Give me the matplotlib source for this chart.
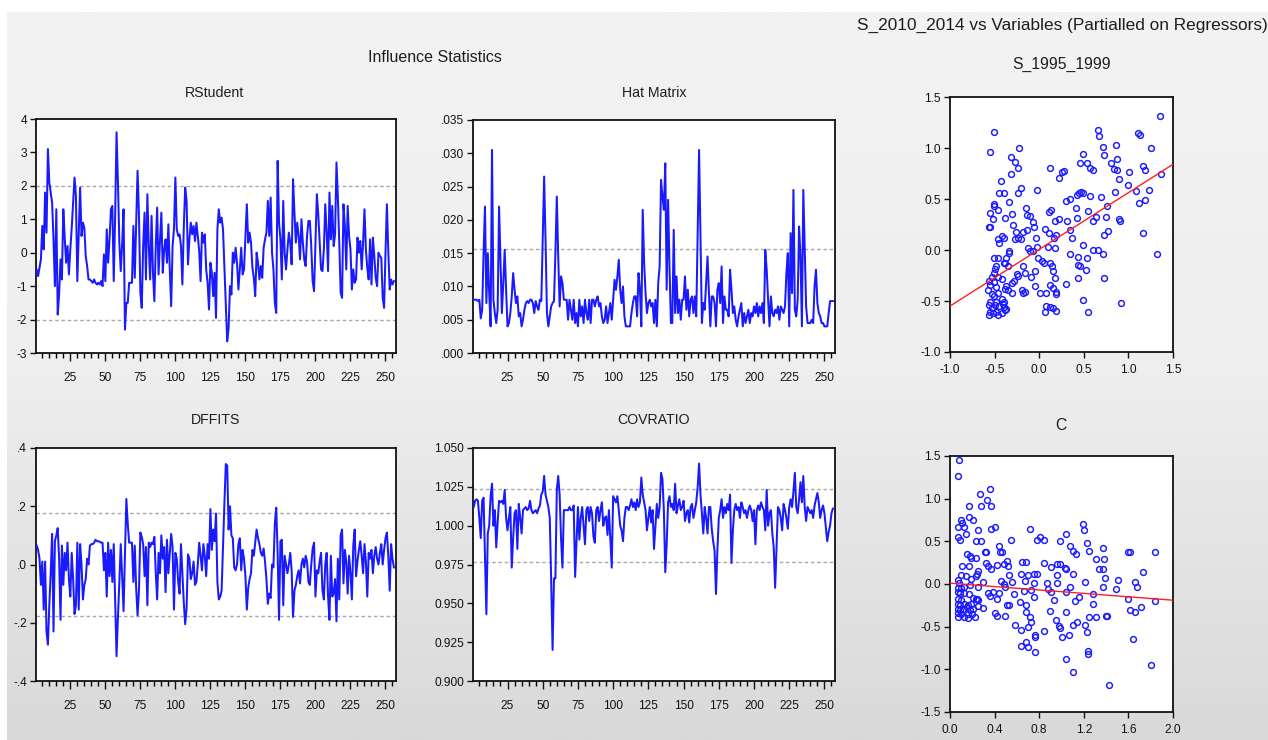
import numpy as np
import matplotlib
matplotlib.use("Agg")
import matplotlib.pyplot as plt
from matplotlib.ticker import MultipleLocator, FuncFormatter

plt.rcParams['font.family'] = ['Liberation Sans', 'DejaVu Sans']
plt.rcParams['axes.unicode_minus'] = False

W, H = 1268, 740

# influence statistics, one value per observation
rstudent = [
    -0.5, -0.7, -0.45, -0.2, 0.8, 0.1, 1.8, 0.6, 3.1, 2.1,
    1.8, 1.5, 0.4, -1.0, 1.3, -1.85, -1.25, -0.2, -0.8, 1.3,
    0.45, -0.3, 0.2, -0.65, 0.1, 0.75, 1.5, 2.25, 1.7, -0.85,
    0.6, 1.95, 0.5, 0.9, 0.75, -0.1, -0.4, -0.8, -0.8, -0.85,
    -0.9, -0.8, -0.9, -0.95, -0.9, -0.95, -0.85, -1.0, -0.05, -0.85,
    0.7, -0.3, 0.4, 1.3, 1.4, -0.85, 1.1, 3.6, 2.1, 0.3,
    -0.55, 0.25, 1.3, -2.3, -1.5, -1.5, -0.9, -0.9, -0.9, 0.8,
    -0.75, 0.85, 2.45, 1.15, -1.2, -1.65, 0.2, 1.2, -0.8, 1.75,
    0.2, -0.8, 1.1, -0.6, -1.45, 0.2, 1.35, -0.65, 0.35, 1.2,
    -0.6, 0.1, 0.4, -0.3, 0.85, -0.5, -1.6, 0.2, 0.7, 2.25,
    0.7, 0.5, 0.55, 0.2, -0.95, 0.75, 1.95, 1.55, -0.35, 0.4,
    0.9, 0.55, 0.8, 0.35, 0.9, 0.5, 0.05, -0.85, 0.6, 0.3,
    0.55, -0.5, -0.9, -1.7, -0.3, -0.6, -1.3, -0.6, -1.95, 0.7,
    1.3, 0.9, 1.05, 0.7, -0.45, -1.55, -2.65, -2.25, -1.0, -1.25,
    0.0, -0.3, 0.15, -0.3, -1.1, -0.5, 0.15, -0.65, -0.5, 0.5,
    1.45, 0.3, 0.6, 0.3, -0.45, -0.75, -1.3, 0.0, -0.3, -0.8,
    -0.4, -0.75, 0.15, 0.4, 0.6, 1.55, 0.5, 1.65, 0.0, -0.5,
    -1.5, -1.8, 2.75, 0.9, 0.4, -0.8, 1.55, 0.0, -0.5, 0.1,
    0.6, 0.3, -0.35, 2.2, 1.2, 0.3, 0.9, 0.5, -0.2, 1.0,
    0.3, -0.2, -0.4, 0.5, 0.95, 0.95, 0.2, -0.85, -1.15, 0.3,
    1.75, 1.15, 0.3, -0.5, -0.55, 0.1, 1.45, 0.6, -0.55, 1.8,
    0.4, 1.4, 0.2, 0.55, 2.7, 1.65, 0.3, -1.2, -1.35, 1.45,
    0.8, -0.5, 1.4, 0.5, 0.1, -1.1, -0.5, -0.9, -0.8, 0.45,
    0.0, 0.35, -0.5, 0.3, 1.3, 0.1, -0.45, -0.8, 0.4, -0.95,
    0.45, -0.1, -0.75, -1.0, 0.0, -0.1, -0.15, -1.35, -1.65, 0.0,
    1.45, 0.05, -1.1, -0.8, -0.95, -0.85,
]

hat = [
    .0080, .0080, .0080, .0078, .0080, .0052, .0065, .0150, .0220, .0075,
    .0150, .0090, .0040, .0305, .0080, .0060, .0045, .0065, .0220, .0140,
    .0060, .0105, .0155, .0095, .0040, .0045, .0060, .0085, .0120, .0095,
    .0075, .0085, .0055, .0060, .0040, .0050, .0065, .0075, .0078, .0075,
    .0080, .0080, .0075, .0060, .0078, .0070, .0065, .0080, .0078, .0170,
    .0265, .0170, .0060, .0040, .0055, .0070, .0075, .0078, .0150, .0235,
    .0145, .0070, .0115, .0105, .0080, .0080, .0080, .0050, .0080, .0065,
    .0050, .0080, .0045, .0060, .0040, .0080, .0055, .0070, .0045, .0080,
    .0060, .0050, .0080, .0045, .0080, .0080, .0070, .0080, .0085, .0070,
    .0075, .0055, .0045, .0050, .0070, .0045, .0060, .0075, .0050, .0080,
    .0110, .0095, .0115, .0140, .0095, .0075, .0100, .0055, .0040, .0040,
    .0040, .0040, .0060, .0075, .0085, .0085, .0055, .0120, .0095, .0040,
    .0215, .0135, .0090, .0060, .0075, .0080, .0070, .0075, .0045, .0080,
    .0040, .0105, .0130, .0260, .0235, .0215, .0285, .0095, .0230, .0130,
    .0045, .0045, .0185, .0060, .0115, .0060, .0080, .0050, .0080, .0080,
    .0115, .0065, .0095, .0055, .0080, .0085, .0060, .0085, .0055, .0180,
    .0305, .0175, .0045, .0075, .0065, .0105, .0145, .0090, .0040, .0085,
    .0085, .0075, .0040, .0095, .0105, .0075, .0130, .0045, .0085, .0065,
    .0065, .0055, .0125, .0095, .0060, .0070, .0050, .0040, .0055, .0065,
    .0075, .0040, .0060, .0045, .0055, .0065, .0045, .0060, .0055, .0070,
    .0060, .0075, .0055, .0070, .0060, .0075, .0045, .0155, .0125, .0080,
    .0040, .0085, .0060, .0055, .0065, .0060, .0070, .0050, .0070, .0065,
    .0060, .0070, .0120, .0150, .0040, .0180, .0090, .0245, .0065, .0055,
    .0080, .0190, .0145, .0040, .0245, .0155, .0070, .0045, .0045, .0045,
    .0050, .0045, .0100, .0125, .0075, .0060, .0055, .0045, .0045, .0040,
    .0040, .0040, .0060, .0078, .0078, .0078,
]

dffits = [
    .065, .050, .020, -.070, .010, -.155, .010, -.230, -.275, -.140,
    -.030, .105, -.230, .080, .100, .125, .020, -.190, .065, -.070,
    .040, -.020, .075, -.050, -.110, .040, -.050, -.170, -.140, .075,
    -.155, .070, .000, -.120, -.070, -.050, .020, .000, .065, .070,
    .070, .075, .085, .080, .080, .078, .075, .075, -.020, .040,
    -.110, .075, -.040, .050, -.060, .070, -.120, -.315, -.180, -.060,
    .070, -.040, -.160, .030, .225, .140, .075, .075, .075, -.060,
    .065, -.080, -.175, -.090, .110, .095, .070, -.040, .060, -.140,
    .075, .060, .075, .070, .095, -.030, -.120, .040, -.030, .100,
    .020, .060, -.095, .085, -.030, .040, .105, .060, -.155, .040,
    .020, -.060, -.100, .070, -.030, -.130, -.205, -.150, .035, .020,
    -.050, -.030, .010, -.070, -.060, .000, .075, .030, -.020, .070,
    .030, -.040, .070, .020, .190, .050, .120, .080, .175, -.060,
    -.120, -.110, -.090, .060, .210, .345, .340, .120, .200, .100,
    .090, -.010, -.020, .000, .070, .090, -.020, .050, .020, -.040,
    -.155, -.080, -.050, -.030, .050, .030, .075, .120, .090, .070,
    .040, .030, .055, .010, -.050, -.135, -.100, -.115, .000, -.010,
    .140, .195, .040, -.190, .080, .085, -.140, .030, .000, -.030,
    .000, .040, -.020, -.180, -.090, -.070, -.040, -.020, -.065, .000,
    .020, -.010, .030, .010, -.060, -.070, .000, .055, .075, -.110,
    -.020, -.030, .010, .040, -.090, -.120, .000, .040, -.110, -.190,
    .030, -.110, -.100, -.050, -.195, .020, -.120, .100, .120, -.065,
    .050, .010, -.100, .030, -.030, -.120, .065, .120, -.040, .010,
    .050, .080, .030, -.030, .070, .010, -.110, .040, .020, .050,
    -.030, .030, .060, .020, .000, .040, .070, .000, .050, .090,
    .110, .030, -.090, .070, .020, -.010,
]

covratio = [
    1.012, 1.016, 1.017, 1.016, 1.005, 0.992, 1.016, 1.018, 0.981, 0.943,
    0.995, 1.000, 1.019, 1.027, 1.000, 1.010, 0.986, 1.002, 1.016, 1.015,
    1.016, 1.014, 1.023, 1.005, 0.997, 1.005, 1.012, 0.973, 0.992, 1.008,
    1.010, 0.985, 1.014, 1.005, 0.995, 1.010, 1.011, 1.012, 1.010, 1.011,
    1.016, 1.010, 1.008, 1.009, 1.010, 1.008, 1.011, 1.013, 1.020, 1.022,
    1.032, 1.020, 1.016, 1.012, 1.005, 0.965, 0.920, 0.966, 0.966, 1.023,
    1.032, 1.020, 0.992, 0.973, 1.010, 1.010, 1.010, 1.010, 1.012, 1.010,
    1.010, 1.013, 0.967, 0.989, 1.012, 0.991, 1.005, 1.012, 1.000, 0.988,
    1.010, 1.012, 1.003, 1.012, 1.008, 0.993, 0.989, 1.010, 1.012, 1.003,
    1.010, 1.015, 1.000, 1.005, 1.006, 0.994, 1.010, 0.992, 0.973, 1.019,
    1.017, 1.015, 1.019, 1.010, 1.000, 0.997, 0.990, 1.005, 1.012, 1.012,
    1.010, 1.013, 1.017, 1.012, 1.015, 1.010, 1.017, 1.012, 1.015, 1.031,
    1.020, 1.015, 1.010, 0.997, 1.005, 1.012, 1.002, 1.010, 0.985, 1.000,
    1.014, 1.005, 1.012, 1.034, 1.030, 1.010, 0.970, 0.988, 1.015, 1.019,
    1.012, 1.014, 1.010, 1.027, 1.008, 1.013, 1.017, 1.010, 1.012, 1.016,
    1.003, 1.008, 1.010, 1.002, 1.012, 1.014, 1.005, 1.010, 1.015, 1.025,
    1.040, 1.020, 1.008, 0.995, 1.012, 1.005, 0.995, 1.012, 1.012, 0.998,
    0.990, 0.984, 0.956, 0.984, 1.005, 1.010, 1.017, 1.005, 1.012, 1.008,
    1.014, 1.010, 1.020, 0.976, 0.997, 1.010, 1.014, 1.010, 1.012, 1.005,
    1.015, 1.012, 1.008, 1.010, 1.005, 1.010, 1.013, 1.010, 1.003, 1.010,
    0.988, 1.010, 1.013, 1.010, 1.015, 1.012, 1.010, 0.997, 1.023, 1.000,
    1.008, 1.010, 0.995, 0.986, 0.960, 0.986, 1.012, 1.010, 1.005, 0.997,
    1.014, 1.010, 1.005, 0.998, 1.012, 1.017, 1.012, 1.022, 1.034, 1.012,
    1.008, 1.017, 1.028, 1.015, 1.032, 1.012, 1.003, 1.012, 1.010, 1.008,
    1.010, 1.005, 1.013, 1.017, 1.021, 1.015, 1.005, 1.010, 1.013, 1.008,
    0.999, 0.990, 0.996, 1.000, 1.008, 1.011,
]

obs = np.arange(1, len(rstudent) + 1)

# cutoff lines
rstudent_cut = [-2.0, 2.0]
hat_cut = [0.0156]
dffits_cut = [-0.177, 0.177]
covratio_cut = [0.9766, 1.0234]

# partial regression plot: S_1995_1999
s95_pts = [
    (-0.51, 1.16), (-0.55, 0.96), (-0.23, 1.00), (-0.32, 0.91), (-0.27, 0.86),
    (-0.24, 0.80), (-0.32, 0.75), (-0.43, 0.68), (-0.20, 0.61), (-0.24, 0.56),
    (-0.45, 0.56), (-0.40, 0.56), (-0.02, 0.59), (-0.34, 0.47), (-0.51, 0.45),
    (-0.51, 0.43), (-0.55, 0.36), (-0.46, 0.39), (-0.30, 0.35), (-0.38, 0.31),
    (-0.52, 0.30), (-0.55, 0.23), (-0.56, 0.23), (-0.29, 0.25), (-0.15, 0.41),
    (-0.14, 0.34), (-0.10, 0.33), (-0.07, 0.27), (-0.06, 0.23), (-0.14, 0.20),
    (-0.18, 0.18), (-0.26, 0.18), (-0.27, 0.11), (-0.24, 0.12), (-0.20, 0.11),
    (-0.46, 0.11), (-0.42, 0.14), (-0.40, 0.12), (-0.45, 0.07), (-0.04, 0.12),
    (0.12, 0.80), (0.26, 0.76), (0.28, 0.77), (0.22, 0.71), (0.13, 0.39),
    (0.11, 0.37), (0.22, 0.30), (0.18, 0.28), (0.06, 0.21), (0.11, 0.17),
    (0.19, 0.15), (0.17, 0.12), (-0.03, 0.03), (-0.13, 0.02), (-0.10, -0.01),
    (-0.07, -0.01), (0.10, 0.03), (0.18, 0.02), (0.49, 0.94), (0.46, 0.85),
    (0.54, 0.85), (0.57, 0.80), (0.60, 0.78), (0.66, 1.18), (0.67, 1.12),
    (0.71, 1.01), (0.73, 0.93), (0.86, 1.03), (0.87, 0.89), (0.81, 0.85),
    (0.84, 0.79), (0.87, 0.78), (0.90, 0.70), (1.01, 0.76), (0.99, 0.64),
    (1.11, 1.15), (1.13, 1.13), (1.25, 1.00), (1.16, 0.82), (1.19, 0.78),
    (1.35, 1.31), (1.37, 0.75), (1.23, 0.59), (1.09, 0.58), (1.19, 0.49),
    (1.12, 0.46), (1.16, 0.17), (1.32, -0.04), (0.92, -0.52), (0.30, 0.48),
    (0.34, 0.50), (0.42, 0.54), (0.45, 0.56), (0.47, 0.57), (0.49, 0.56),
    (0.57, 0.53), (0.69, 0.52), (0.85, 0.57), (0.41, 0.41), (0.55, 0.38),
    (0.64, 0.32), (0.60, 0.28), (0.76, 0.43), (0.75, 0.32), (0.90, 0.30),
    (0.91, 0.28), (0.77, 0.19), (0.73, 0.15), (0.42, 0.31), (0.31, 0.28),
    (0.35, 0.20), (0.37, 0.12), (0.49, 0.05), (0.60, 0.00), (0.66, 0.00),
    (0.71, -0.04), (0.54, -0.08), (0.44, -0.07), (0.35, -0.04), (0.43, -0.15),
    (0.46, -0.16), (0.53, -0.20), (0.44, -0.27), (0.73, -0.27), (0.30, -0.33),
    (0.49, -0.49), (0.55, -0.61), (-0.01, -0.08), (0.03, -0.11), (0.05, -0.13),
    (0.12, -0.13), (0.14, -0.16), (0.16, -0.21), (0.18, -0.27), (0.12, -0.34),
    (0.16, -0.37), (0.19, -0.43), (0.19, -0.41), (0.01, -0.42), (0.08, -0.42),
    (0.08, -0.55), (0.12, -0.56), (0.16, -0.57), (0.19, -0.60), (0.07, -0.61),
    (-0.05, -0.21), (-0.09, -0.26), (-0.05, -0.35), (-0.18, -0.16), (-0.16, -0.23),
    (-0.25, -0.24), (-0.24, -0.25), (-0.19, -0.39), (-0.18, -0.42), (-0.16, -0.41),
    (-0.31, -0.42), (-0.37, -0.35), (-0.38, -0.38), (-0.35, -0.39), (-0.34, -0.03),
    (-0.34, -0.01), (-0.37, -0.08), (-0.40, -0.13), (-0.38, -0.13), (-0.35, -0.16),
    (-0.46, -0.08), (-0.51, -0.08), (-0.48, -0.16), (-0.50, -0.19), (-0.51, -0.23),
    (-0.46, -0.26), (-0.42, -0.28), (-0.53, -0.26), (-0.56, -0.30), (-0.55, -0.34),
    (-0.57, -0.39), (-0.53, -0.43), (-0.51, -0.45), (-0.46, -0.42), (-0.42, -0.48),
    (-0.40, -0.51), (-0.55, -0.51), (-0.56, -0.54), (-0.53, -0.57), (-0.50, -0.54),
    (-0.48, -0.51), (-0.45, -0.55), (-0.40, -0.56), (-0.55, -0.61), (-0.52, -0.62),
    (-0.48, -0.61), (-0.56, -0.64), (-0.46, -0.64), (-0.42, -0.62), (-0.38, -0.59),
    (-0.37, -0.58), (-0.41, -0.53), (-0.31, -0.32), (-0.28, -0.30), (-0.48, -0.36),
    (-0.51, -0.31),
]
s95_fit_x = [-1.0, 1.5]
s95_fit_y = [-0.55, 0.84]

# partial regression plot: C
c_pts = [
    (0.08, 1.45), (0.07, 1.27), (0.36, 1.11), (0.27, 1.06), (0.33, 0.99),
    (0.28, 0.91), (0.37, 0.91), (0.17, 0.91), (0.17, 0.79), (0.21, 0.75),
    (0.10, 0.75), (0.11, 0.71), (0.07, 0.67), (0.13, 0.67), (0.14, 0.59),
    (0.07, 0.55), (0.09, 0.52), (0.25, 0.63), (0.37, 0.65), (0.40, 0.67),
    (0.23, 0.50), (0.28, 0.50), (0.31, 0.37), (0.15, 0.35), (0.18, 0.33),
    (0.19, 0.31), (0.23, 0.31), (0.32, 0.25), (0.34, 0.21), (0.37, 0.18),
    (0.42, 0.22), (0.11, 0.21), (0.17, 0.21), (0.25, 0.15), (0.24, 0.12),
    (0.10, 0.11), (0.14, 0.09), (0.19, 0.06), (0.23, 0.09), (0.30, 0.02),
    (0.07, 0.05), (0.08, 0.01), (0.07, -0.05), (0.10, -0.05), (0.13, -0.03),
    (0.18, -0.01), (0.25, -0.03), (0.07, -0.09), (0.09, -0.11), (0.13, -0.10),
    (0.17, -0.12), (0.07, -0.17), (0.10, -0.19), (0.21, -0.16), (0.24, -0.17),
    (0.07, -0.23), (0.09, -0.25), (0.13, -0.23), (0.16, -0.25), (0.19, -0.23),
    (0.23, -0.18), (0.25, -0.19), (0.07, -0.29), (0.09, -0.31), (0.12, -0.29),
    (0.15, -0.27), (0.18, -0.31), (0.21, -0.29), (0.25, -0.26), (0.30, -0.28),
    (0.07, -0.34), (0.10, -0.35), (0.16, -0.35), (0.20, -0.35), (0.07, -0.39),
    (0.13, -0.39), (0.16, -0.40), (0.22, -0.39), (0.40, -0.34), (0.42, -0.37),
    (0.55, 0.52), (0.44, 0.44), (0.47, 0.37), (0.45, 0.37), (0.32, 0.37),
    (0.51, 0.27), (0.48, 0.24), (0.52, 0.21), (0.53, 0.10), (0.46, 0.04),
    (0.56, 0.02), (0.48, 0.00), (0.49, -0.03), (0.44, -0.11), (0.39, -0.09),
    (0.34, -0.11), (0.36, -0.14), (0.42, -0.17), (0.57, -0.12), (0.51, -0.25),
    (0.53, -0.25), (0.49, -0.37), (0.58, -0.48), (0.72, 0.65), (0.78, 0.52),
    (0.81, 0.55), (0.84, 0.52), (0.65, 0.26), (0.68, 0.26), (0.84, 0.25),
    (0.64, 0.12), (0.67, 0.04), (0.70, 0.10), (0.75, 0.12), (0.78, 0.12),
    (0.75, 0.01), (0.87, 0.01), (0.88, -0.06), (0.66, -0.08), (0.73, -0.07),
    (0.75, -0.15), (0.63, -0.21), (0.68, -0.25), (0.68, -0.33), (0.72, -0.39),
    (0.73, -0.44), (0.70, -0.50), (0.64, -0.54), (0.76, -0.60), (0.76, -0.62),
    (0.84, -0.55), (0.68, -0.68), (0.64, -0.73), (0.70, -0.74), (0.76, -0.80),
    (0.91, 0.20), (0.96, 0.23), (0.99, 0.23), (0.96, 0.11), (1.03, 0.19),
    (1.04, 0.18), (1.10, 0.12), (0.96, 0.01), (0.91, -0.09), (0.93, -0.19),
    (1.04, -0.09), (1.08, -0.04), (1.04, -0.33), (0.90, -0.32), (0.95, -0.42),
    (0.98, -0.49), (0.99, -0.52), (1.00, -0.62), (1.07, -0.60), (1.10, -0.48),
    (1.14, -0.44), (1.04, -0.88), (1.10, -1.03), (0.99, 0.50), (1.04, 0.59),
    (1.08, 0.44), (1.10, 0.39), (1.13, 0.35), (1.19, 0.70), (1.20, 0.63),
    (1.23, 0.48), (1.25, 0.39), (1.12, -0.20), (1.16, -0.15), (1.21, 0.02),
    (1.21, -0.48), (1.23, -0.56), (1.25, -0.39), (1.24, -0.79), (1.24, -0.82),
    (1.31, -0.39), (1.28, -0.23), (1.28, -0.12), (1.31, 0.29), (1.34, 0.18),
    (1.37, 0.18), (1.37, 0.42), (1.38, 0.29), (1.39, 0.07), (1.37, -0.03),
    (1.40, -0.37), (1.41, -0.37), (1.43, -1.18), (1.51, 0.05), (1.49, -0.06),
    (1.60, 0.37), (1.61, 0.37), (1.60, -0.17), (1.61, -0.30), (1.64, -0.64),
    (1.66, 0.02), (1.68, -0.04), (1.66, -0.33), (1.71, -0.27), (1.73, 0.14),
    (1.80, -0.95), (1.84, 0.37), (1.84, -0.20),
]
c_fit_x = [0.0, 2.0]
c_fit_y = [0.01, -0.19]

BLUE = '#1a1aff'
RED = '#ff2020'
TXT = '#1e1e1e'
TICK_SIZE = 8.6

fig = plt.figure(figsize=(W / 100, H / 100), dpi=100, facecolor='white')

# soft gray backdrop
bg = fig.add_axes([7 / W, 0, 1 - 7 / W, (H - 12) / H], zorder=-10)
grad = np.linspace(0, 1, 256).reshape(-1, 1)
bg.imshow(grad, aspect='auto', cmap=matplotlib.colors.LinearSegmentedColormap.from_list(
    'bg', ['#f3f3f3', '#eeeeee', '#d9d9d9']), extent=[0, 1, 0, 1])
bg.set_axis_off()


def rect(left, top, right, bottom):
    return [left / W, 1 - bottom / H, (right - left) / W, (bottom - top) / H]


def label(x, y, s, size):
    fig.text(x / W, 1 - y / H, s, ha='center', va='center', fontsize=size, color=TXT)


def style(ax):
    for sp in ax.spines.values():
        sp.set_linewidth(1.3)
        sp.set_color('#111111')
    ax.tick_params(which='major', direction='out', length=4.5, width=1.0,
                   labelsize=TICK_SIZE, colors='#111111', pad=2)
    ax.tick_params(axis='x', which='major', length=6, pad=8)
    ax.tick_params(axis='x', which='minor', direction='out', length=3.5, width=1.0)


def strip_zero(dec):
    def f(v, pos):
        s = f'{v:.{dec}f}'
        return s.replace('0.', '.', 1) if s.startswith(('0.', '-0.')) else s
    return FuncFormatter(f)


def series_panel(r, values, cuts, ylim, step, fmt):
    ax = fig.add_axes(r)
    ax.plot(obs, values, color=BLUE, lw=1.45, zorder=3)
    for c in cuts:
        ax.axhline(c, color='#a8a8a8', lw=1.0, ls=(0, (2.5, 2)), zorder=2)
    ax.set_xlim(0.5, 257.5)
    ax.set_ylim(ylim)
    ax.yaxis.set_major_locator(MultipleLocator(step))
    ax.yaxis.set_major_formatter(fmt)
    ax.xaxis.set_major_locator(MultipleLocator(25))
    ax.xaxis.set_minor_locator(MultipleLocator(5))
    style(ax)
    return ax


label(435, 57, 'Influence Statistics', 11.5)
label(215, 93, 'RStudent', 10.2)
label(654, 93, 'Hat Matrix', 10.2)
label(216, 420, 'DFFITS', 10.2)
label(653, 420, 'COVRATIO', 10.2)

series_panel(rect(36, 119, 396, 353), rstudent, rstudent_cut, (-3, 4), 1,
             FuncFormatter(lambda v, p: f'{v:.0f}'))
series_panel(rect(473, 120, 835, 353), hat, hat_cut, (0, 0.035), 0.005, strip_zero(3))
series_panel(rect(36, 448, 396, 681), dffits, dffits_cut, (-0.4, 0.4), 0.2, strip_zero(1))
series_panel(rect(473, 448, 835, 681), covratio, covratio_cut, (0.9, 1.05), 0.025,
             FuncFormatter(lambda v, p: f'{v:.3f}'))

label(1062, 25, 'S_2010_2014 vs Variables (Partialled on Regressors)', 12.4)
label(1062, 64, 'S_1995_1999', 11.3)
label(1061, 425, 'C', 11.3)


def scatter_panel(r, pts, fx, fy, xlim, ylim, xstep):
    ax = fig.add_axes(r)
    xs, ys = zip(*pts)
    ax.plot(xs, ys, ls='none', marker='o', ms=4.2, mfc='none', mec=BLUE, mew=1.05, zorder=3)
    ax.plot(fx, fy, color=RED, lw=1.0, zorder=4)
    ax.set_xlim(xlim)
    ax.set_ylim(ylim)
    ax.xaxis.set_major_locator(MultipleLocator(xstep))
    ax.yaxis.set_major_locator(MultipleLocator(0.5))
    ax.xaxis.set_major_formatter(FuncFormatter(lambda v, p: f'{v:.1f}'))
    ax.yaxis.set_major_formatter(FuncFormatter(lambda v, p: f'{v:.1f}'))
    style(ax)
    ax.tick_params(axis='x', which='major', length=4.5, pad=4)
    return ax


scatter_panel(rect(950, 97, 1173, 352), s95_pts, s95_fit_x, s95_fit_y,
              (-1.0, 1.5), (-1.0, 1.5), 0.5)
scatter_panel(rect(950, 456, 1173, 712), c_pts, c_fit_x, c_fit_y,
              (0.0, 2.0), (-1.5, 1.5), 0.4)

fig.savefig('out.png', dpi=100, facecolor=fig.get_facecolor())
